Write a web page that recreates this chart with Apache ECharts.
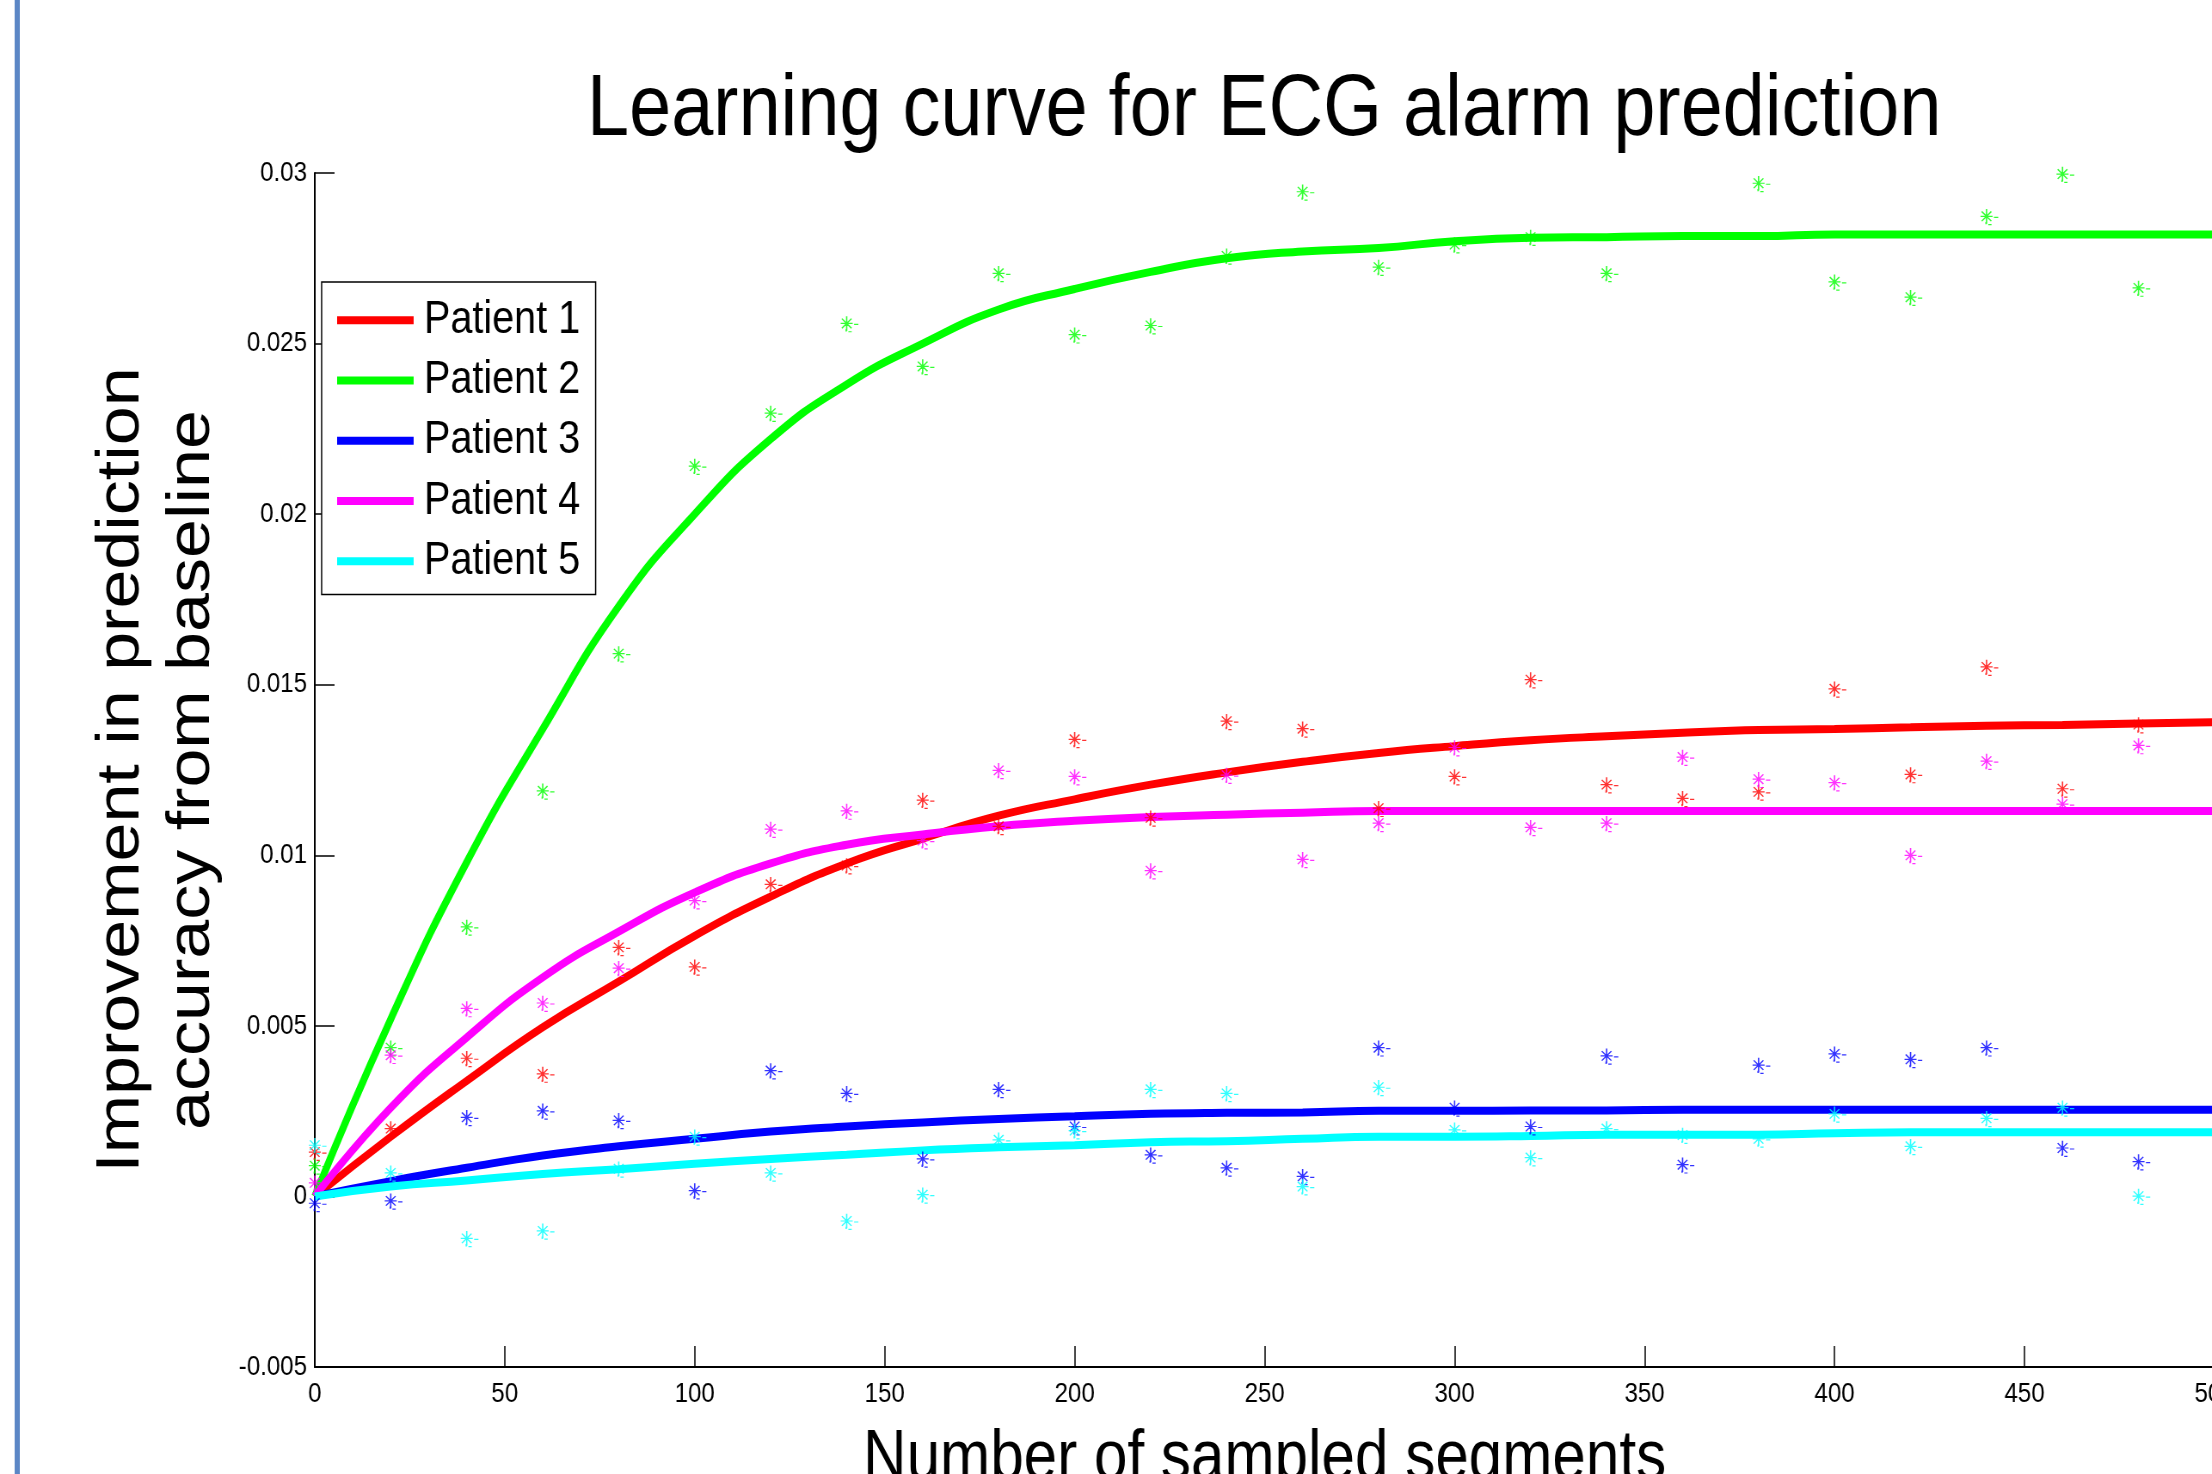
<!DOCTYPE html>
<html>
<head>
<meta charset="utf-8">
<title>Learning curve for ECG alarm prediction</title>
<script src="https://cdn.jsdelivr.net/npm/echarts@6.0.0/dist/echarts.min.js"></script>
<style>
  html, body { margin: 0; padding: 0; overflow: hidden; background: #fff; width: 2212px; height: 1474px; }
  /* the original figure is squeezed sideways, so the whole chart is drawn wider and scaled back */
  #chart { width: 2572px; height: 1474px; transform: scaleX(0.86); transform-origin: 0 0; }
</style>
</head>
<body>
<div id="chart"></div>
<script>
// sampled measurements, one every 20 segments
const sampleX = [0, 20, 40, 60, 80, 100, 120, 140, 160, 180, 200, 220, 240,
  260, 280, 300, 320, 340, 360, 380, 400, 420, 440, 460, 480];

const samples1 = [0.0013, 0.00199, 0.00405, 0.00359, 0.0073, 0.00673, 0.00915, 0.0097, 0.01162,
  0.01085, 0.0134, 0.0111, 0.01393, 0.01371, 0.01138, 0.01231, 0.01515, 0.01207, 0.01167,
  0.01186, 0.01488, 0.01237, 0.01552, 0.01195, 0.01383];
const samples2 = [0.0009, 0.00436, 0.0079, 0.01189, 0.01591, 0.02141, 0.02296, 0.02559, 0.02433,
  0.02706, 0.02526, 0.02553, 0.02757, 0.02945, 0.02724, 0.0279, 0.02812, 0.02706, 0.03003,
  0.0297, 0.02681, 0.02636, 0.02873, 0.02997, 0.02663];
const samples3 = [-0.0002, -0.00013, 0.00232, 0.00251, 0.00223, 0.00017, 0.00369, 0.00302, 0.0011,
  0.00314, 0.00205, 0.00122, 0.00084, 0.00059, 0.00436, 0.0026, 0.00205, 0.00412, 0.00093,
  0.00385, 0.00418, 0.00402, 0.00436, 0.00142, 0.00102];
const samples4 = [0.0004, 0.00414, 0.00551, 0.00567, 0.00669, 0.00867, 0.01077, 0.0113, 0.01043,
  0.01249, 0.01231, 0.00955, 0.01235, 0.00988, 0.01094, 0.01316, 0.01082, 0.01094, 0.01288,
  0.01223, 0.01213, 0.01, 0.01276, 0.0115, 0.01322];
const samples5 = [0.0015, 0.00069, -0.00123, -0.00101, 0.00081, 0.00175, 0.00069, -0.00072, 0.00005,
  0.00166, 0.00193, 0.00314, 0.00302, 0.00029, 0.0032, 0.00195, 0.00114, 0.00199, 0.0018,
  0.00169, 0.00242, 0.00147, 0.00229, 0.0026, 0.00001];

// fitted learning curves
const fitX = [0, 20, 40, 60, 80, 100, 120, 140, 160, 180, 200, 220, 240,
  260, 280, 300, 320, 340, 360, 380, 400, 420, 440, 460, 480, 500];

const fit1 = [0, 0.00175, 0.00339, 0.00496, 0.0063, 0.00764, 0.00879, 0.00976, 0.01049, 0.01116,
  0.01164, 0.01207, 0.01243, 0.01274, 0.013, 0.0132, 0.01337, 0.01349, 0.01359, 0.01367,
  0.0137, 0.01375, 0.0138, 0.01382, 0.01386, 0.0139];
const fit2 = [0, 0.0052, 0.0098, 0.0137, 0.0173, 0.02, 0.0222, 0.0238, 0.025, 0.026,
  0.0266, 0.0271, 0.0275, 0.0277, 0.0278, 0.028, 0.0281, 0.02812, 0.02815, 0.02815,
  0.0282, 0.0282, 0.0282, 0.0282, 0.0282, 0.0282];
const fit3 = [0, 0.00045, 0.00084, 0.0012, 0.00147, 0.00169, 0.0019, 0.00205, 0.00217, 0.00227,
  0.00235, 0.00242, 0.00245, 0.00246, 0.00251, 0.00251, 0.00252, 0.00252, 0.00254, 0.00254,
  0.00254, 0.00254, 0.00254, 0.00254, 0.00254, 0.00254];
const fit4 = [0, 0.0026, 0.00466, 0.00642, 0.00776, 0.00891, 0.00976, 0.01031, 0.01061, 0.01085,
  0.01101, 0.01112, 0.01119, 0.01125, 0.0113, 0.0113, 0.0113, 0.0113, 0.0113, 0.0113,
  0.0113, 0.0113, 0.0113, 0.0113, 0.0113, 0.0113];
const fit5 = [0, 0.00029, 0.00047, 0.00066, 0.0008, 0.00096, 0.0011, 0.00122, 0.00135, 0.00144,
  0.0015, 0.00159, 0.00162, 0.00169, 0.00175, 0.00175, 0.00177, 0.00181, 0.00181, 0.00181,
  0.00185, 0.00188, 0.00188, 0.00188, 0.00188, 0.00188];

const patientNames = ["Patient 1", "Patient 2", "Patient 3", "Patient 4", "Patient 5"];
const patientColors = ["#ff0000", "#00ff00", "#0000ff", "#ff00ff", "#00ffff"];
const fits = [fit1, fit2, fit3, fit4, fit5];
const samples = [samples1, samples2, samples3, samples4, samples5];

const font = "Liberation Sans, Arial, sans-serif";
// matlab style asterisk with the little dash artefacts trailing to the lower right
const asterisk = "path://M0,-7.3L0,7.3M-6,0L6,0M-4.8,-4.8L4.8,4.8M-4.8,4.8L4.8,-4.8" +
  "M7.4,1L11.7,1M1.7,8.3L5,8.3M-0.5,5.7L-0.5,8";

const chart = echarts.init(document.getElementById("chart"), null, { renderer: "canvas" });

const lineSeries = fits.map((fit, i) => ({
  name: patientNames[i],
  type: "line",
  data: fitX.map((x, j) => [x, fit[j]]),
  showSymbol: false,
  smooth: 0.5,
  lineStyle: { color: patientColors[i], width: 8 },
  itemStyle: { color: patientColors[i] },
  z: 2
}));

const pointSeries = samples.map((vals, i) => ({
  name: patientNames[i] + " samples",
  type: "scatter",
  data: sampleX.map((x, j) => [x, vals[j]]),
  symbol: asterisk,
  symbolSize: [20.6, 15.6],
  symbolOffset: [3.3, 0.5],
  itemStyle: { color: "none", borderColor: patientColors[i], borderWidth: 1.4 },
  z: 3
}));

chart.setOption({
  animation: false,
  backgroundColor: "#ffffff",
  title: {
    text: "Learning curve for ECG alarm prediction",
    left: 1470,
    top: 67,
    textAlign: "center",
    padding: 0,
    textStyle: { fontFamily: font, fontSize: 88, fontWeight: "normal", color: "#000" }
  },
  legend: {
    data: patientNames,
    orient: "vertical",
    left: 374,
    top: 282,
    icon: "rect",
    itemWidth: 89,
    itemHeight: 8,
    itemGap: 0,
    padding: [8, 18, 3, 18],
    backgroundColor: "#fff",
    borderColor: "#000",
    borderWidth: 1.5,
    borderRadius: 0,
    textStyle: { fontFamily: font, fontSize: 46, color: "#000", lineHeight: 60.3, padding: [0, 0, 0, 7] }
  },
  graphic: [
    {
      type: "rect",
      shape: { x: 17, y: 0, width: 6, height: 1474 },
      style: { fill: "#5b86c5" },
      silent: true
    }
  ],
  grid: { left: 366, top: 173, width: 2209, height: 1194, containLabel: false, outerBoundsMode: "none" },
  xAxis: {
    type: "value",
    min: 0,
    max: 500,
    interval: 50,
    name: "Number of sampled segments",
    nameLocation: "middle",
    nameGap: 58,
    nameTextStyle: { fontFamily: font, fontSize: 70, color: "#000" },
    axisLine: { show: true, onZero: false, lineStyle: { color: "#000", width: 2 } },
    axisTick: { show: true, inside: true, length: 21, lineStyle: { color: "#000", width: 1.5 } },
    axisLabel: { fontFamily: font, fontSize: 28, color: "#000", margin: 13, showMaxLabel: true },
    splitLine: { show: false }
  },
  yAxis: {
    type: "value",
    min: -0.005,
    max: 0.03,
    interval: 0.005,
    name: "Improvement in prediction\naccuracy from baseline",
    nameLocation: "middle",
    nameRotate: 90,
    nameGap: 101,
    nameTextStyle: { fontFamily: font, fontSize: 70, color: "#000", lineHeight: 82 },
    axisLine: { show: true, onZero: false, lineStyle: { color: "#000", width: 2 } },
    axisTick: { show: true, inside: true, length: 23, lineStyle: { color: "#000", width: 1.5 } },
    axisLabel: {
      fontFamily: font, fontSize: 28, color: "#000", margin: 9,
      formatter: (v) => String(+v.toFixed(4))
    },
    splitLine: { show: false }
  },
  series: lineSeries.concat(pointSeries)
});
</script>
</body>
</html>
